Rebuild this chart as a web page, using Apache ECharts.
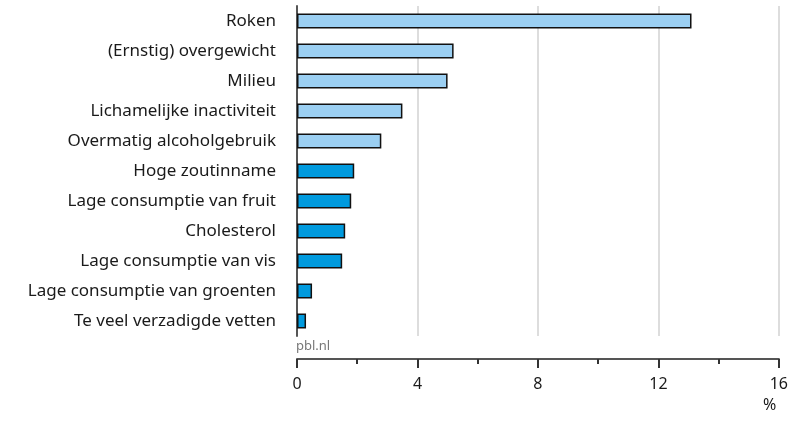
<!DOCTYPE html>
<html>
<head>
<meta charset="utf-8">
<script src="https://cdn.jsdelivr.net/npm/echarts@6/dist/echarts.min.js"></script>
<style>
  html, body { margin: 0; padding: 0; background: #fff; }
  #chart { width: 791px; height: 422px; }
</style>
</head>
<body>
<div id="chart"></div>
<script>
var categories = [
    'Roken',
    '(Ernstig) overgewicht',
    'Milieu',
    'Lichamelijke inactiviteit',
    'Overmatig alcoholgebruik',
    'Hoge zoutinname',
    'Lage consumptie van fruit',
    'Cholesterol',
    'Lage consumptie van vis',
    'Lage consumptie van groenten',
    'Te veel verzadigde vetten'
];
var values = [13.1, 5.2, 5.0, 3.5, 2.8, 1.9, 1.8, 1.6, 1.5, 0.5, 0.3];
// de eerste vijf zijn lichtblauw, de rest donkerblauw
var lightCount = 5;
var xTicks = [0, 4, 8, 12, 16];

var font = '"Noto Sans", sans-serif';

var chart = echarts.init(document.getElementById('chart'));
var option = {
    animation: false,
    grid: {
        left: 297,
        right: 10,
        top: 6,
        bottom: 86
    },
    xAxis: {
        type: 'value',
        min: xTicks[0],
        max: xTicks[xTicks.length - 1],
        interval: 4,
        offset: 23,
        axisLine: {
            show: true,
            lineStyle: { color: '#555', width: 2 }
        },
        axisTick: {
            show: true,
            length: 9,
            lineStyle: { color: '#333', width: 2 }
        },
        minorTick: {
            show: true,
            splitNumber: 2,
            length: 5,
            lineStyle: { color: '#333', width: 2 }
        },
        axisLabel: {
            margin: 17,
            fontFamily: font,
            fontSize: 16,
            color: '#1a1a1a'
        },
        splitLine: {
            show: true,
            lineStyle: { color: '#ddd', width: 2 }
        }
    },
    yAxis: {
        type: 'category',
        data: categories,
        inverse: true,
        axisLine: {
            show: true,
            lineStyle: { color: '#555', width: 2 }
        },
        axisTick: { show: false },
        axisLabel: {
            margin: 21,
            fontFamily: font,
            fontSize: 17,
            color: '#1a1a1a'
        }
    },
    series: [{
        type: 'bar',
        data: values,
        barWidth: 15,
        itemStyle: {
            color: function (p) {
                return p.dataIndex < lightCount ? '#9bcff2' : '#009ade';
            },
            borderColor: '#111',
            borderWidth: 1.5
        }
    }],
    graphic: [{
        type: 'text',
        left: 296,
        top: 340,
        style: {
            text: 'pbl.nl',
            font: '13px ' + font,
            fill: '#777'
        }
    }, {
        type: 'text',
        left: 763,
        top: 397,
        style: {
            text: '%',
            font: '16px ' + font,
            fill: '#1a1a1a'
        }
    }]
};
chart.setOption(option);
</script>
</body>
</html>
